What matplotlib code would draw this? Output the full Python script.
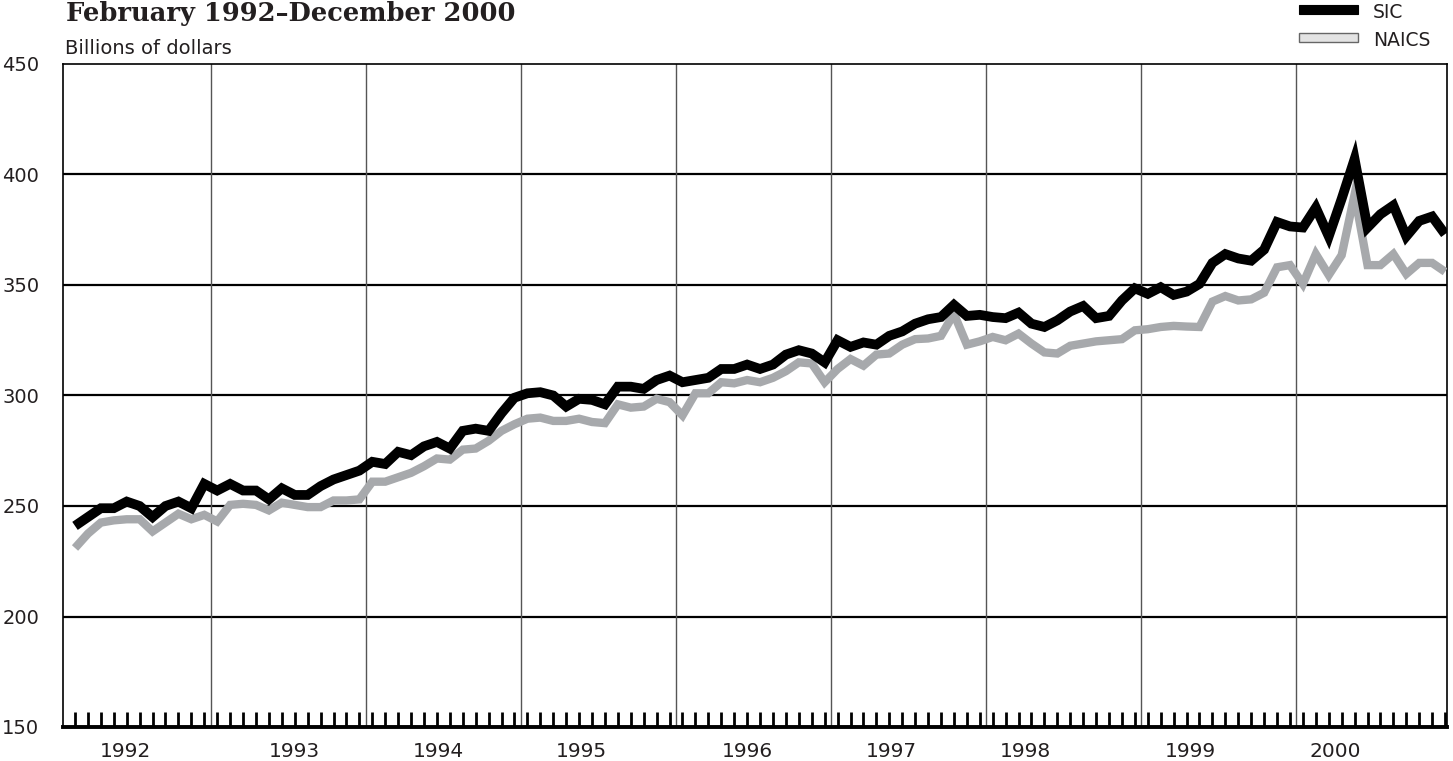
import matplotlib
matplotlib.use("Agg")
import matplotlib.pyplot as plt
from matplotlib.patches import Rectangle
import numpy as np

# ---------------- data (monthly, Feb 1992 - Dec 2000) ----------------
sic = [
    # 1992 Feb-Dec
    241, 245, 249, 249, 252, 250, 245, 250, 252, 249, 260,
    # 1993
    257, 260, 257, 257, 253, 258, 255, 255, 259, 262, 264, 266,
    # 1994
    270, 269, 274.5, 273, 277, 279, 276, 284, 285, 284, 292, 299,
    # 1995
    301, 301.5, 300, 295, 298.5, 298, 296, 304, 304, 303, 307, 309,
    # 1996
    306, 307, 308, 312, 312, 314, 312, 314, 318.5, 320.5, 319, 315,
    # 1997
    325, 322, 324, 323, 327, 329, 332.5, 334.5, 335.5, 341, 336, 336.5,
    # 1998
    335.5, 335, 337.5, 332.5, 331, 334, 338, 340.5, 335, 336, 343, 348.5,
    # 1999
    346, 349, 345.5, 347, 350.5, 360, 364, 362, 361, 366, 378.5, 376.5,
    # 2000
    376, 385, 372, 389, 407, 376, 382, 386, 372, 379, 381, 373,
]
naics = [
    # 1992 Feb-Dec
    231, 237.5, 242.5, 243.5, 244, 244, 238.5, 242.5, 246.5, 244, 246,
    # 1993
    243, 250.5, 251, 250.5, 248, 251.5, 250.5, 249.5, 249.5, 252.5, 252.5, 253,
    # 1994
    261, 261, 263, 265, 268, 271.5, 271, 275.5, 276, 279.5, 284, 287,
    # 1995
    289.5, 290, 288.5, 288.5, 289.5, 288, 287.5, 296, 294.5, 295, 298.5, 297,
    # 1996
    291, 301, 301, 306, 305.5, 307, 306, 308, 311, 315, 314.5, 306,
    # 1997
    312, 316.5, 313.5, 318.5, 319, 323, 325.5, 325.8, 327, 337, 323, 324.5,
    # 1998
    326.5, 325, 328, 323.5, 319.5, 319, 322.5, 323.5, 324.5, 325, 325.5, 329.5,
    # 1999
    330, 331, 331.5, 331.2, 331, 342.5, 345, 343, 343.5, 346.5, 358, 359,
    # 2000
    350.5, 364, 354.5, 363.5, 391, 359, 359, 364, 355, 360, 360, 356,
]
years = ["1992", "1993", "1994", "1995", "1996", "1997", "1998", "1999", "2000"]
y_ticks = [150, 200, 250, 300, 350, 400, 450]
title = "February 1992\u2013December 2000"
y_label = "Billions of dollars"
legend_labels = ["SIC", "NAICS"]

# ---------------- layout ----------------
W, H = 1453, 761
fig = plt.figure(figsize=(W / 100, H / 100), dpi=100)
L, R, T, B = 63, 1447, 64, 727
ax = fig.add_axes([L / W, 1 - B / H, (R - L) / W, (B - T) / H])

months = np.arange(len(sic))
ax.set_xlim(-0.93, 106.15)
ax.set_ylim(150, 450)

FONT = "DejaVu Sans"
TXT = "#231f20"
GRAY = "#a7a9ac"

# horizontal gridlines
for v in y_ticks[1:-1]:
    ax.axhline(v, color="black", lw=1.6, zorder=1)
# year separators
for k in range(1, len(years)):
    ax.axvline(10.5 + 12 * (k - 1), color="#555555", lw=1.0, zorder=1)

# series
ax.plot(months, naics, color=GRAY, lw=6.0, solid_joinstyle="miter",
        solid_capstyle="butt", zorder=3)
ax.plot(months, sic, color="black", lw=7.0, solid_joinstyle="miter",
        solid_capstyle="butt", zorder=4)

# spines
for s in ["left", "top", "right"]:
    ax.spines[s].set_linewidth(1.2)
ax.spines["bottom"].set_linewidth(2.8)

# month ticks
ax.set_xticks(months)
ax.tick_params(axis="x", direction="in", length=10.5, width=2.0,
               color="black", labelbottom=False)
# y labels
ax.set_yticks(y_ticks)
ax.set_yticklabels([str(v) for v in y_ticks], fontsize=14, family=FONT,
                   color=TXT)
ax.tick_params(axis="y", length=0, pad=17)

# year labels
year_pos = [3.9, 17.0, 28.1, 39.2, 52.0, 63.2, 73.5, 86.3, 97.5]
for yr, p in zip(years, year_pos):
    ax.text(p, -0.022, yr, transform=ax.get_xaxis_transform(), ha="center",
            va="top", fontsize=14.5, family=FONT, color=TXT)

# title and unit label
fig.text(66 / W, 1 - 20.5 / H, title, ha="left", va="baseline", fontsize=18.5,
         fontweight="bold", family="DejaVu Serif", color=TXT)
fig.text(65 / W, 1 - 48 / H, y_label, ha="left", va="center", fontsize=14,
         family=FONT, color=TXT)

# legend
fig.add_artist(Rectangle((1299 / W, 1 - 14 / H), 59 / W, 9 / H,
                         transform=fig.transFigure, facecolor="black",
                         edgecolor="black", lw=0.8))
fig.add_artist(Rectangle((1299 / W, 1 - 42 / H), 59 / W, 9 / H,
                         transform=fig.transFigure, facecolor="#e3e3e3",
                         edgecolor="#666666", lw=1.0))
fig.text(1373 / W, 1 - 13 / H, legend_labels[0], ha="left", va="center",
         fontsize=13.5, family=FONT, color=TXT)
fig.text(1373 / W, 1 - 41 / H, legend_labels[1], ha="left", va="center",
         fontsize=13.5, family=FONT, color=TXT)

fig.savefig("out.png", dpi=100)
